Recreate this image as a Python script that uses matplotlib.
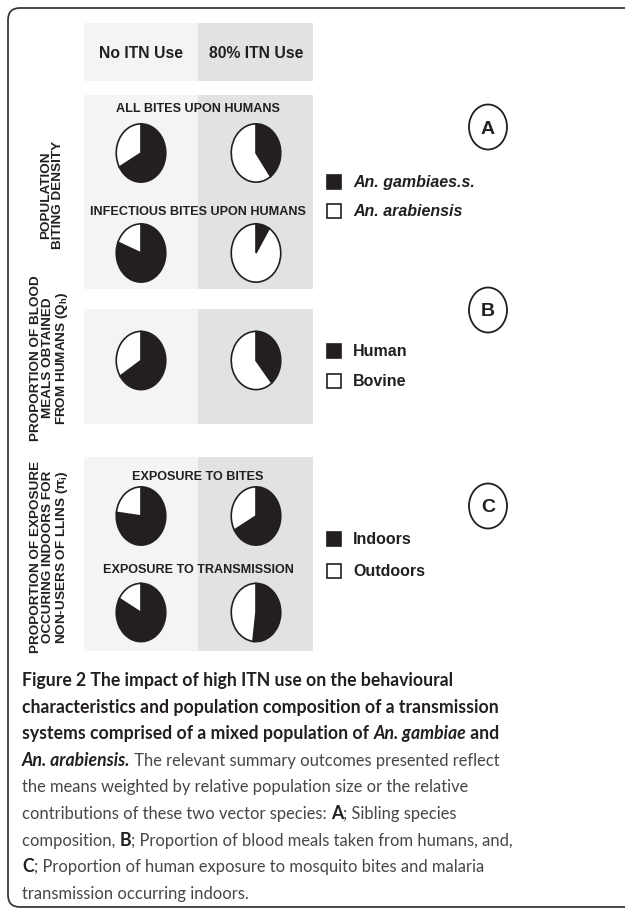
import matplotlib
matplotlib.use('Agg')
import matplotlib.pyplot as plt
from matplotlib.patches import Rectangle, Ellipse, FancyBboxPatch

# ---- data ----
columns = ['No ITN Use', '80% ITN Use']
subtitles_a = ['ALL BITES UPON HUMANS', 'INFECTIOUS BITES UPON HUMANS']
subtitles_c = ['EXPOSURE TO BITES', 'EXPOSURE TO TRANSMISSION']
gambiae_bites = [0.67, 0.40]        # share of An. gambiae s.s. in all bites
gambiae_infectious = [0.81, 0.09]   # share in infectious bites
human_meals = [0.66, 0.39]          # blood meals from humans
indoor_bites = [0.77, 0.67]         # exposure to bites indoors
indoor_transmission = [0.83, 0.52]  # exposure to transmission indoors
legend_a = ['An. gambiaes.s.', 'An. arabiensis']
legend_b = ['Human', 'Bovine']
legend_c = ['Indoors', 'Outdoors']
row_labels = ['POPULATION\nBITING DENSITY',
              'PROPORTION OF BLOOD\nMEALS OBTAINED\nFROM HUMANS (Q$_\\mathregular{h}$)',
              'PROPORTION OF EXPOSURE\nOCCURING INDOORS FOR\nNON-USERS OF LLINS (\u03c0$_\\mathregular{i}$)']
panel_letters = ['A', 'B', 'C']

W, H = 625, 912
DARK = '#231f20'
LIGHT_BG = '#f4f4f4'
DARK_BG = '#e1e2e4'
NARROW = ['Liberation Sans Narrow', 'Liberation Sans', 'DejaVu Sans']

fig = plt.figure(figsize=(W / 100, H / 100), dpi=100)
bg = fig.add_axes([0, 0, 1, 1])
bg.set_xlim(0, W)
bg.set_ylim(H, 0)
bg.axis('off')

# outer rounded frame (open to the right)
bg.add_patch(FancyBboxPatch((8, 9), 640, 899, boxstyle='round,pad=0,rounding_size=12',
                            fc='none', ec='#3a3a3a', lw=1.3))

col_x = [84, 198]
col_w = [114, 115]
col_c = [141, 256]
# background blocks: header, A, B, C
for y0, y1 in [(24, 82), (96, 290), (310, 425), (458, 652)]:
    bg.add_patch(Rectangle((col_x[0], y0), col_w[0], y1 - y0, fc=LIGHT_BG, ec='none'))
    bg.add_patch(Rectangle((col_x[1], y0), col_w[1], y1 - y0, fc=DARK_BG, ec='none'))

for c, name in zip(col_c, columns):
    bg.text(c, 53, name, ha='center', va='center', fontsize=11.3, fontweight='bold',
            family=NARROW, color=DARK)

# subtitles
for y, s in [(109, subtitles_a[0]), (212, subtitles_a[1]),
             (477, subtitles_c[0]), (570, subtitles_c[1])]:
    bg.text(198, y, s, ha='center', va='center', fontsize=9.1, fontweight='bold',
            family=NARROW, color=DARK)


def pie_at(cx, cy, frac):
    ax = fig.add_axes([(cx - 25.5) / W, 1 - (cy + 30) / H, 51 / W, 60 / H])
    ax.pie([frac, 1 - frac], colors=[DARK, 'white'], startangle=90, counterclock=False,
           wedgeprops=dict(edgecolor=DARK, linewidth=1.2))
    ax.set_aspect('auto')
    ax.set_xlim(-1.03, 1.03)
    ax.set_ylim(-1.03, 1.03)


for i, c in enumerate(col_c):
    pie_at(c, 154, gambiae_bites[i])
    pie_at(c, 254, gambiae_infectious[i])
    pie_at(c, 361.5, human_meals[i])
    pie_at(c, 517, indoor_bites[i])
    pie_at(c, 613.5, indoor_transmission[i])

# legends
def legend(items, ys, style):
    for (txt, y, fill) in zip(items, ys, [DARK, 'white']):
        bg.add_patch(Rectangle((327, y - 7), 14, 14, fc=fill, ec=DARK, lw=1.2))
        bg.text(353, y, txt, ha='left', va='center', fontsize=11.5, fontweight='bold',
                fontstyle=style, family=NARROW, color=DARK)


legend(legend_a, [183, 212], 'italic')
legend(legend_b, [352, 382], 'normal')
legend(legend_c, [540, 572], 'normal')

# circled panel letters
for letter, y in zip(panel_letters, [128, 311, 507]):
    bg.add_patch(Ellipse((488, y), 38, 45, fc='white', ec=DARK, lw=1.3))
    bg.text(488, y + 1, letter, ha='center', va='center', fontsize=14, fontweight='bold',
            family=NARROW, color=DARK)

# rotated row labels
for lab, (x, y) in zip(row_labels, [(52, 195), (50, 358), (50, 557)]):
    bg.text(x, y, lab, rotation=90, ha='center', va='center', multialignment='center',
            fontsize=9.7, fontweight='bold', family=NARROW, color=DARK, linespacing=1.0)

# ---- caption ----
renderer = fig.canvas.get_renderer()
CAP = ['Lato', 'Open Sans', 'DejaVu Sans']
bold = dict(fontweight='bold', color=DARK, fontsize=12.7)
boldit = dict(fontweight='bold', fontstyle='italic', color=DARK, fontsize=12.7)
reg = dict(fontweight='normal', color='#474747', fontsize=11.9)
cap_lines = [
    [('Figure 2 The impact of high ITN use on the behavioural', bold)],
    [('characteristics and population composition of a transmission', bold)],
    [('systems comprised of a mixed population of ', bold), ('An. gambiae', boldit), (' and', bold)],
    [('An. arabiensis.', boldit), (' The relevant summary outcomes presented reflect', reg)],
    [('the means weighted by relative population size or the relative', reg)],
    [('contributions of these two vector species: ', reg), ('A', bold), ('; Sibling species', reg)],
    [('composition, ', reg), ('B', bold), ('; Proportion of blood meals taken from humans, and,', reg)],
    [('C', bold), ('; Proportion of human exposure to mosquito bites and malaria', reg)],
    [('transmission occurring indoors.', reg)],
]


def text_width(s, kw):
    t = bg.text(0, 0, s + '|', family=CAP, **kw)
    t2 = bg.text(0, 0, '|', family=CAP, **kw)
    w = t.get_window_extent(renderer).width - t2.get_window_extent(renderer).width
    t.remove()
    t2.remove()
    return w


for i, parts in enumerate(cap_lines):
    x = 22
    y = 686 + i * 26.6
    for s, kw in parts:
        bg.text(x, y, s, ha='left', va='baseline', family=CAP, **kw)
        x += text_width(s, kw)

fig.savefig('out.png', dpi=100)
